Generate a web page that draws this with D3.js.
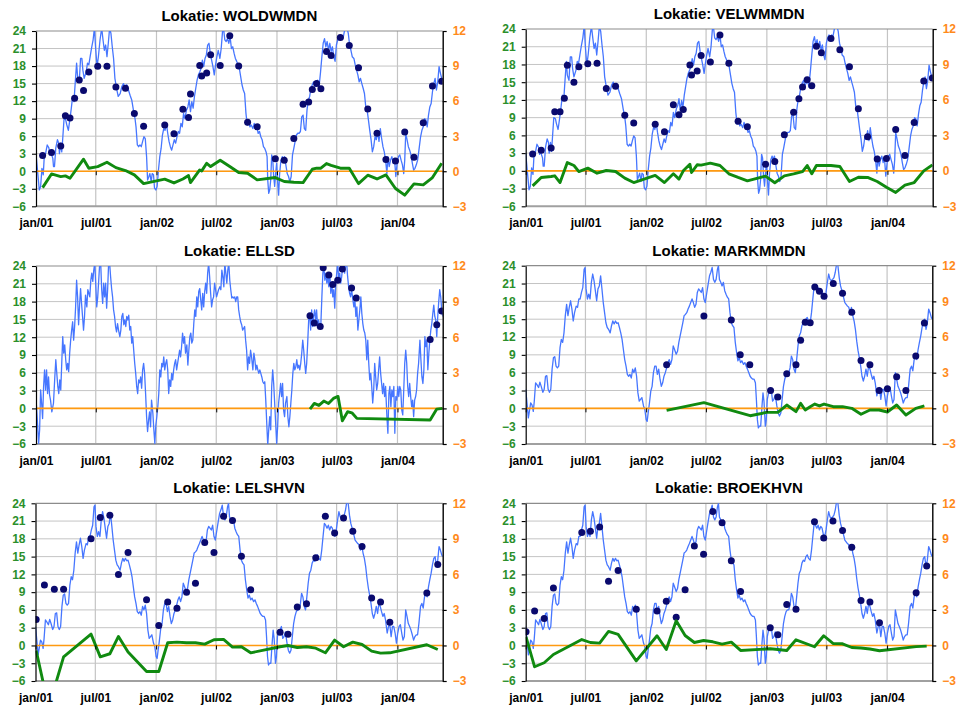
<!DOCTYPE html>
<html>
<head>
<meta charset="utf-8">
<script src="https://cdn.jsdelivr.net/npm/d3@7"></script>
<style>
  body { margin: 0; background: #ffffff; }
  svg { display: block; font-family: "Liberation Sans", Arial, sans-serif; }
</style>
</head>
<body>
<svg id="chart" width="963" height="711"></svg>
<script>
// ---- data ---------------------------------------------------------------
// All series are [dag, waarde] with dag = days since 1 Jan 2001.
const lastDay = 1232;

const locations = ["WOLDWMDN", "VELWMMDN", "ELLSD", "MARKMMDN", "LELSHVN", "BROEKHVN"];

const yLeftTicks = [-6, -3, 0, 3, 6, 9, 12, 15, 18, 21, 24];
const yRightTicks = [-3, 0, 3, 6, 9, 12];
const xTickDates = ["2001-01-01", "2001-07-01", "2002-01-01", "2002-07-01", "2003-01-01", "2003-07-01", "2004-01-01"];
const xTickLabels = ["jan/01", "jul/01", "jan/02", "jul/02", "jan/03", "jul/03", "jan/04"];

// daily water temperature (left axis), northern stations
const tempNoord = [[0,3.0],[10,-3.2],[14,-2.6],[18,0.5],[22,-0.6],[25,2.5],[29,3.0],[34,4.5],[39,4.0],[42,2.8],[45,3.2],[51,2.2],[53,0.8],[56,0.8],[60,4.0],[65,5.4],[69,4.8],[71,3.0],[75,4.8],[78,3.3],[81,5.6],[85,9.0],[90,8.8],[93,8.0],[98,7.0],[103,9.0],[107,10.8],[111,12.8],[115,11.9],[119,15.3],[123,18.5],[126,16.2],[131,15.3],[135,19.3],[139,19.3],[142,17.3],[146,15.9],[152,17.0],[156,18.5],[160,18.2],[164,19.6],[168,21.0],[173,22.5],[177,24.5],[181,20.7],[185,17.9],[189,19.6],[194,22.5],[199,24.5],[203,22.5],[207,20.7],[211,21.6],[215,19.6],[219,21.9],[223,24.5],[227,23.6],[231,21.3],[235,19.3],[239,15.9],[244,14.2],[249,12.8],[255,13.3],[260,14.5],[265,15.0],[270,14.2],[275,14.8],[280,13.9],[285,13.0],[290,12.2],[295,10.5],[300,9.0],[303,7.6],[307,4.5],[311,4.2],[315,4.5],[319,4.2],[323,5.1],[327,5.9],[331,5.6],[335,2.5],[338,-1.5],[342,-0.9],[345,-0.4],[349,-1.8],[352,-0.4],[356,-0.6],[359,-2.9],[363,-3.2],[367,-2.6],[371,0.2],[375,2.5],[379,3.9],[383,6.2],[387,7.3],[391,7.0],[395,8.2],[399,6.5],[403,5.1],[407,4.2],[411,3.6],[415,4.5],[419,5.4],[423,4.8],[427,5.9],[431,6.8],[435,6.5],[439,8.2],[443,7.6],[447,9.9],[451,9.0],[456,10.5],[460,11.0],[464,12.2],[468,10.2],[472,11.9],[476,10.8],[480,12.8],[484,14.2],[488,15.6],[492,16.5],[496,17.0],[500,17.6],[504,19.0],[508,17.9],[512,19.3],[516,19.9],[520,21.6],[524,21.9],[528,20.2],[532,19.0],[536,17.9],[540,16.5],[544,18.2],[548,19.6],[552,20.7],[557,19.3],[561,21.0],[565,23.9],[568,24.5],[572,22.5],[576,22.2],[580,22.7],[584,21.9],[588,23.0],[592,21.0],[596,21.3],[600,20.2],[604,19.3],[608,18.8],[612,18.2],[616,17.6],[620,16.2],[624,14.8],[628,13.9],[632,13.3],[636,9.9],[640,7.9],[644,8.8],[648,7.6],[652,7.9],[657,7.3],[661,8.2],[665,7.3],[669,7.6],[673,6.5],[677,6.8],[681,5.9],[685,5.4],[689,4.2],[693,3.9],[697,3.3],[700,2.5],[702,-1.5],[705,-3.8],[708,-3.2],[711,-1.5],[714,2.8],[717,2.2],[720,-0.9],[723,-2.6],[726,-0.4],[729,1.4],[732,-1.8],[735,-4.1],[738,-0.4],[742,1.9],[746,2.5],[749,1.9],[753,2.5],[756,1.4],[761,-0.4],[765,-0.9],[769,-1.8],[773,-0.9],[777,2.8],[781,3.9],[785,5.1],[789,6.2],[793,6.5],[797,6.5],[801,6.8],[805,9.3],[809,9.6],[813,7.3],[817,7.0],[821,10.5],[825,12.2],[829,12.8],[833,14.2],[837,14.8],[841,15.3],[845,14.5],[849,14.8],[853,15.6],[857,14.2],[862,17.0],[866,19.6],[870,21.9],[874,22.7],[878,21.3],[882,22.2],[886,20.7],[890,21.9],[894,20.5],[898,21.3],[902,19.6],[906,18.8],[910,21.6],[914,22.5],[918,23.0],[922,22.5],[926,23.0],[930,22.7],[934,23.9],[938,24.5],[942,24.5],[946,23.6],[950,21.6],[954,20.7],[958,19.6],[963,19.3],[967,18.2],[971,17.3],[975,16.5],[979,15.3],[983,15.9],[987,15.0],[991,14.2],[995,13.3],[999,11.0],[1003,10.5],[1007,8.8],[1011,7.0],[1015,5.4],[1019,3.3],[1023,4.2],[1027,5.9],[1031,5.4],[1035,6.8],[1039,5.1],[1043,7.3],[1047,5.6],[1051,4.2],[1055,3.3],[1059,1.9],[1063,-0.4],[1066,2.5],[1070,0.8],[1074,1.9],[1078,2.5],[1082,1.4],[1086,2.2],[1090,-0.9],[1094,1.4],[1098,2.5],[1102,2.8],[1106,1.9],[1110,1.1],[1114,-0.4],[1117,1.9],[1120,6.5],[1124,5.4],[1128,4.2],[1132,3.6],[1136,2.8],[1140,1.4],[1144,0.2],[1148,0.5],[1152,1.1],[1156,1.9],[1160,3.6],[1165,5.9],[1169,7.0],[1173,7.6],[1177,9.0],[1181,8.8],[1185,7.6],[1189,9.6],[1193,11.0],[1197,11.6],[1201,13.6],[1205,15.0],[1209,15.9],[1213,13.9],[1217,15.3],[1221,17.9],[1225,16.8],[1229,15.9],[1232,15.6]];

// daily water temperature, ELLSD
const tempEll = [[0,1.7],[4,-2.0],[8,-5.9],[11,-3.6],[14,3.1],[17,0.9],[20,-1.7],[23,3.7],[26,6.5],[29,3.1],[32,6.5],[35,2.5],[38,5.3],[41,2.3],[44,1.4],[48,-0.6],[53,0.9],[57,5.3],[60,8.2],[63,5.9],[66,3.7],[69,2.5],[72,4.8],[75,3.1],[78,7.6],[81,12.1],[84,9.3],[87,10.7],[90,8.2],[93,6.5],[96,7.6],[99,6.2],[102,9.3],[105,11.5],[108,13.2],[111,14.6],[114,11.5],[117,13.8],[120,17.1],[123,21.6],[126,18.8],[129,14.1],[132,17.4],[135,20.2],[138,17.7],[141,15.5],[144,13.2],[147,15.5],[150,19.1],[154,17.1],[157,20.0],[160,19.4],[163,18.8],[166,21.6],[169,22.8],[172,21.4],[175,23.3],[178,24.5],[181,20.8],[184,17.1],[187,18.8],[190,21.6],[193,24.5],[196,24.5],[199,20.0],[202,17.7],[205,21.1],[208,18.8],[211,21.1],[214,16.9],[217,20.0],[220,24.5],[223,24.5],[226,22.2],[229,20.2],[232,18.8],[235,16.6],[238,15.5],[241,13.8],[244,12.9],[247,14.3],[250,13.2],[254,12.1],[257,13.2],[260,15.5],[263,16.0],[266,14.1],[269,14.9],[272,13.8],[275,15.5],[278,14.9],[281,15.7],[284,13.2],[287,13.8],[290,11.0],[293,12.1],[296,9.8],[299,7.6],[302,5.9],[305,3.7],[308,2.5],[311,4.8],[314,4.3],[317,5.3],[320,3.4],[323,6.5],[326,7.6],[329,5.9],[332,2.5],[335,-1.4],[338,-3.9],[341,-2.0],[344,-0.6],[347,-3.1],[350,1.4],[354,-0.8],[357,-3.6],[360,-5.9],[363,-2.8],[366,-1.4],[369,0.3],[372,2.5],[375,6.5],[378,5.3],[381,7.6],[384,7.0],[387,8.7],[390,6.5],[393,7.6],[396,8.2],[399,6.5],[402,2.5],[405,4.8],[408,3.7],[411,5.9],[414,4.8],[417,6.5],[420,7.6],[423,8.2],[426,6.5],[429,7.6],[432,8.7],[435,9.8],[438,8.7],[441,10.4],[444,12.7],[447,11.0],[450,12.1],[453,9.3],[457,10.7],[460,7.3],[463,9.8],[466,12.1],[469,12.7],[472,11.0],[475,11.5],[478,14.3],[481,16.6],[484,15.5],[487,18.8],[490,17.1],[493,19.7],[496,20.2],[499,18.3],[502,16.6],[505,19.4],[508,17.1],[511,19.7],[514,21.1],[517,19.4],[520,22.8],[523,24.5],[526,22.2],[529,19.4],[532,17.1],[535,18.3],[538,18.8],[541,21.1],[544,20.0],[547,18.8],[550,19.4],[553,20.0],[557,20.5],[560,20.0],[563,23.3],[566,22.2],[569,20.5],[572,24.5],[575,22.8],[578,21.1],[581,23.3],[584,24.5],[587,21.6],[590,20.0],[593,18.6],[596,18.8],[599,18.6],[602,18.8],[605,18.0],[608,18.8],[611,18.8],[614,16.6],[617,15.5],[620,14.6],[623,14.1],[626,13.2],[629,13.5],[632,13.8],[635,11.5],[638,9.8],[641,6.5],[644,8.7],[647,7.6],[650,9.8],[653,8.7],[657,6.5],[660,9.3],[663,8.2],[666,6.5],[669,7.3],[672,6.5],[675,5.9],[678,6.5],[681,5.9],[684,5.3],[687,4.5],[690,4.2],[693,4.5],[696,1.4],[699,-2.5],[702,-6.2],[705,-3.6],[708,-1.4],[711,-3.6],[714,3.7],[717,6.5],[720,4.2],[723,0.9],[726,-2.5],[729,-5.9],[732,-3.1],[735,0.9],[738,2.5],[741,4.2],[744,2.0],[747,4.2],[750,-0.3],[753,-1.4],[756,0.9],[760,2.0],[763,-1.4],[766,-3.1],[769,-1.4],[772,0.9],[775,3.1],[778,5.9],[781,7.6],[784,6.5],[787,7.0],[790,8.2],[793,6.8],[796,7.3],[799,6.5],[802,7.6],[805,9.3],[808,11.5],[811,9.8],[814,7.6],[817,5.9],[820,7.6],[823,11.0],[826,14.9],[829,16.0],[832,13.2],[835,16.6],[838,13.8],[841,15.5],[844,16.6],[847,14.9],[850,16.6],[853,13.8],[856,14.9],[860,13.5],[863,14.3],[866,18.8],[869,22.8],[872,23.9],[875,21.6],[878,22.8],[881,21.1],[884,22.2],[887,20.5],[890,22.8],[893,19.4],[896,21.1],[899,18.8],[902,20.0],[905,16.9],[908,21.1],[911,22.8],[914,24.5],[917,21.6],[920,22.8],[923,21.1],[926,22.2],[929,23.9],[932,24.5],[935,22.8],[938,24.5],[941,24.5],[944,22.2],[947,20.5],[950,19.4],[953,18.8],[956,20.0],[960,18.3],[963,17.1],[966,18.3],[969,15.5],[972,17.1],[975,13.2],[978,14.9],[981,16.6],[984,18.8],[987,16.0],[990,14.3],[993,13.2],[996,12.7],[999,11.5],[1002,8.2],[1005,11.5],[1008,7.6],[1011,4.8],[1014,5.9],[1017,3.7],[1020,0.9],[1023,3.1],[1026,7.6],[1029,5.3],[1032,3.1],[1035,4.2],[1038,6.5],[1041,8.7],[1044,5.9],[1047,4.2],[1050,2.5],[1053,4.2],[1056,2.0],[1059,3.7],[1063,-1.4],[1066,-4.2],[1069,2.5],[1072,3.7],[1075,0.3],[1078,3.1],[1081,2.0],[1084,3.7],[1087,-4.2],[1090,2.0],[1093,1.4],[1096,3.7],[1099,2.0],[1102,3.7],[1105,3.1],[1108,-0.3],[1111,-1.1],[1114,3.1],[1117,7.6],[1120,9.8],[1123,7.6],[1126,3.7],[1129,2.0],[1132,4.2],[1135,2.0],[1138,0.3],[1141,1.4],[1144,-1.4],[1147,1.4],[1150,2.0],[1153,3.1],[1156,5.9],[1159,7.6],[1163,11.5],[1166,8.2],[1169,5.3],[1172,4.2],[1175,6.5],[1178,12.1],[1181,10.4],[1184,11.5],[1187,6.5],[1190,9.3],[1193,11.5],[1196,13.2],[1199,14.3],[1202,16.0],[1205,17.4],[1208,15.5],[1211,14.9],[1214,12.1],[1217,15.5],[1220,18.0],[1223,20.0],[1226,18.8],[1229,16.6],[1232,15.5]];

// daily water temperature, harbour stations
const tempHaven = [[0,3.2],[4,0.9],[8,-1.6],[12,-0.2],[15,0.9],[19,0.6],[23,-0.5],[26,1.2],[30,4.3],[34,4.0],[39,3.5],[43,4.4],[47,3.7],[52,2.7],[56,3.2],[60,5.4],[64,5.5],[68,3.2],[72,2.7],[76,3.2],[80,6.6],[84,8.5],[88,8.7],[92,7.1],[96,6.8],[100,7.1],[104,10.2],[108,11.6],[112,11.1],[116,12.7],[120,15.6],[124,17.5],[128,15.6],[132,17.0],[136,18.1],[140,16.7],[144,14.7],[148,16.1],[153,17.2],[157,17.0],[161,18.4],[165,18.4],[169,19.5],[173,20.3],[177,23.4],[180,23.7],[183,20.1],[187,18.4],[191,19.2],[195,18.4],[199,21.2],[203,22.6],[207,21.5],[211,19.8],[215,18.1],[219,20.1],[223,20.6],[227,22.3],[231,20.1],[235,17.8],[239,16.1],[243,14.4],[247,13.6],[251,13.3],[256,12.7],[260,13.9],[264,14.7],[268,14.2],[272,14.7],[276,14.3],[280,14.4],[284,13.6],[288,12.7],[292,11.6],[296,9.9],[300,8.2],[304,7.1],[308,5.7],[312,5.4],[316,5.7],[320,5.1],[324,6.6],[328,6.0],[332,6.8],[336,5.4],[340,2.6],[344,1.2],[348,1.5],[352,1.8],[357,0.4],[361,-0.2],[365,-1.9],[368,-2.2],[371,-0.8],[375,0.9],[379,2.9],[383,3.7],[387,6.0],[391,7.1],[395,7.1],[399,5.7],[403,6.6],[407,4.9],[411,3.7],[415,4.3],[419,5.4],[423,6.0],[427,6.8],[431,7.7],[435,8.2],[439,7.4],[443,8.2],[447,10.5],[451,9.9],[456,9.1],[460,9.6],[464,11.1],[468,12.2],[472,13.3],[476,14.4],[480,15.6],[484,15.8],[488,16.1],[492,16.7],[496,17.2],[500,17.8],[504,18.4],[508,17.8],[512,17.0],[516,17.5],[520,19.5],[524,20.1],[528,19.8],[532,19.5],[536,20.3],[540,18.4],[544,17.8],[548,19.2],[552,20.6],[557,22.3],[561,22.9],[565,23.7],[569,21.7],[573,21.2],[577,21.7],[581,23.4],[584,24.0],[587,21.7],[591,21.2],[595,20.6],[599,21.2],[603,19.8],[607,19.2],[611,18.7],[615,18.4],[619,16.1],[623,14.4],[627,13.9],[631,13.6],[635,11.1],[639,9.4],[643,8.0],[647,8.5],[651,7.7],[655,8.0],[660,7.4],[664,7.7],[668,7.1],[672,6.6],[676,6.0],[680,5.4],[684,5.1],[688,4.9],[692,4.9],[696,4.3],[699,1.5],[702,-1.9],[705,-3.3],[708,-3.0],[712,-3.0],[716,0.4],[719,2.6],[722,1.2],[726,-3.0],[729,-1.9],[732,1.5],[736,2.6],[740,2.6],[744,3.2],[748,1.2],[752,1.5],[756,2.3],[761,0.4],[765,-0.8],[769,-1.3],[773,-0.8],[777,1.5],[781,3.7],[785,4.9],[789,5.7],[793,6.0],[797,6.0],[801,6.8],[805,8.8],[809,8.2],[813,6.6],[817,6.0],[821,8.2],[825,10.5],[829,12.2],[833,12.7],[837,13.9],[841,14.4],[845,14.2],[849,15.0],[853,15.3],[857,14.7],[862,14.4],[866,16.1],[870,18.4],[874,20.6],[878,20.3],[882,19.8],[886,20.3],[890,19.5],[894,20.1],[898,19.8],[902,18.7],[906,18.4],[910,19.5],[914,21.2],[918,22.6],[922,21.7],[926,21.5],[930,21.7],[934,22.0],[938,22.9],[942,24.3],[946,24.0],[950,22.0],[954,20.6],[958,19.8],[963,18.7],[967,17.8],[971,17.5],[975,17.2],[979,17.0],[983,16.1],[987,17.0],[991,15.6],[995,14.7],[999,13.3],[1003,11.3],[1007,9.7],[1011,8.5],[1015,7.1],[1019,5.4],[1023,4.6],[1027,5.4],[1031,6.6],[1035,5.4],[1039,7.1],[1043,6.6],[1047,5.7],[1051,4.9],[1055,5.4],[1059,4.3],[1064,2.1],[1068,3.2],[1072,3.5],[1076,1.5],[1080,3.2],[1084,3.2],[1088,2.1],[1092,0.4],[1096,2.1],[1100,3.2],[1104,3.5],[1108,2.1],[1112,0.9],[1116,1.5],[1120,6.0],[1124,4.9],[1128,3.7],[1132,3.2],[1136,2.6],[1140,1.8],[1144,0.9],[1148,1.5],[1152,1.8],[1156,1.8],[1160,3.7],[1165,6.6],[1169,7.1],[1173,6.3],[1177,8.2],[1181,8.8],[1185,8.2],[1189,9.9],[1193,11.1],[1197,12.2],[1201,13.6],[1205,14.7],[1209,15.0],[1213,13.3],[1217,14.4],[1221,16.7],[1225,16.1],[1229,15.3],[1232,15.0]];

// measurements (dots, left axis)
const measWold = [[20,2.7],[47,3.2],[75,4.3],[89,9.5],[103,9.1],[117,12.5],[131,15.6],[144,13.8],[160,17.0],[187,17.95],[215,17.95],[242,14.4],[271,14.2],[298,9.9],[326,7.7],[390,7.9],[418,6.4],[445,10.6],[462,9.2],[468,13.2],[496,18.1],[502,16.3],[517,16.8],[529,19.95],[558,18.1],[587,23.2],[614,18.0],[641,8.4],[670,7.6],[725,2.15],[752,1.9],[781,5.6],[809,11.45],[826,11.85],[837,14.0],[850,15.0],[863,14.1],[880,20.5],[894,19.8],[922,22.9],[949,21.5],[977,17.7],[1005,10.65],[1033,6.5],[1060,2.0],[1089,1.75],[1117,6.7],[1145,2.4],[1173,8.3],[1201,14.6],[1229,15.4]];
const measVelw = [[21,2.85],[47,3.5],[77,3.85],[88,10.0],[104,10.0],[117,12.3],[126,17.85],[146,15.0],[161,17.6],[188,18.1],[216,18.2],[244,13.95],[272,14.3],[300,9.4],[327,8.1],[392,7.9],[420,6.6],[447,11.2],[464,9.5],[477,10.4],[497,17.9],[502,16.2],[519,16.9],[531,19.5],[559,18.4],[588,23.0],[615,18.2],[643,8.4],[671,7.45],[726,1.1],[754,1.6],[783,6.1],[811,9.9],[827,12.2],[838,14.2],[852,15.4],[866,14.4],[880,21.1],[895,20.0],[924,22.4],[951,20.5],[980,17.6],[1007,10.5],[1035,5.75],[1064,2.0],[1092,2.1],[1120,7.0],[1148,2.6],[1176,8.2],[1205,15.2],[1231,15.7]];
const measEll = [[830,15.6],[843,14.4],[861,13.8],[870,23.7],[887,22.5],[899,20.9],[914,21.6],[928,23.5],[956,20.3],[970,18.6],[1194,11.6],[1214,14.1],[1229,16.4]];
const measMark = [[427,7.35],[540,15.55],[623,14.85],[650,9.0],[679,7.35],[742,3.0],[764,1.9],[791,5.8],[819,7.35],[833,11.45],[847,14.5],[862,14.4],[876,20.4],[890,19.7],[904,18.85],[932,21.0],[960,19.35],[988,16.15],[1016,8.05],[1043,7.35],[1071,3.0],[1096,3.3],[1124,5.3],[1152,3.0],[1182,8.8],[1208,14.35]];
const measLels = [[2,4.4],[27,10.2],[57,9.5],[85,9.5],[168,18.0],[196,21.6],[225,22.0],[251,12.0],[280,15.7],[336,7.7],[373,3.35],[400,7.35],[428,6.3],[457,9.0],[484,10.5],[512,17.4],[540,15.7],[569,21.8],[596,21.1],[623,15.05],[651,9.4],[740,2.25],[764,1.9],[792,6.5],[820,7.05],[848,14.8],[877,21.8],[905,19.0],[932,21.5],[960,19.3],[988,16.7],[1017,8.0],[1044,7.35],[1072,3.9],[1184,8.85],[1217,13.65]];
const measBroek = [[1,2.3],[27,5.8],[56,4.55],[84,9.7],[170,19.05],[196,19.3],[224,20.0],[251,10.85],[280,12.65],[335,6.1],[398,5.8],[426,7.45],[456,4.75],[483,9.4],[511,16.8],[539,15.4],[567,22.6],[595,20.7],[623,14.3],[651,9.1],[741,3.0],[764,1.8],[791,6.9],[819,6.1],[875,20.9],[903,18.15],[931,21.0],[960,19.4],[988,16.6],[1016,7.6],[1043,7.35],[1072,3.85],[1183,8.9],[1215,13.4]];

// model minus measurement (green line, right axis)
const diffWold = [[20,-1.40],[47,-0.23],[75,-0.46],[89,-0.40],[103,-0.60],[144,1.03],[160,0.26],[187,0.40],[215,0.77],[242,0.31],[271,0.06],[298,-0.31],[326,-1.06],[390,-0.68],[418,-1.0],[445,-0.66],[462,-0.37],[468,-0.97],[496,0.11],[502,0.03],[517,0.68],[529,0.40],[558,0.94],[587,0.40],[614,-0.11],[641,-0.17],[670,-0.74],[725,-0.54],[752,-0.88],[781,-0.94],[809,-0.97],[837,0.17],[850,0.26],[863,0.26],[880,0.66],[894,0.51],[922,0.26],[949,0.26],[977,-1.06],[1005,-0.34],[1033,-0.66],[1060,-0.31],[1089,-1.48],[1117,-2.05],[1145,-1.08],[1173,-1.17],[1201,-0.54],[1229,0.68]];
const diffVelw = [[21,-1.27],[47,-0.56],[77,-0.48],[88,-0.42],[104,-0.99],[126,0.70],[146,0.45],[161,-0.06],[188,0.23],[216,-0.20],[244,0.03],[272,-0.06],[300,-0.62],[327,-0.99],[392,-0.39],[420,-0.99],[447,-0.25],[464,-0.70],[477,0.0],[497,0.56],[502,-0.14],[519,0.51],[531,0.48],[559,0.65],[588,0.45],[615,-0.25],[643,-0.56],[671,-0.85],[726,-0.45],[754,-1.01],[783,-0.42],[811,-0.25],[838,-0.06],[852,0.45],[866,-0.25],[880,0.45],[895,0.45],[924,0.45],[951,0.37],[980,-0.90],[1007,-0.54],[1035,-0.56],[1064,-0.90],[1092,-1.38],[1120,-1.83],[1148,-1.21],[1176,-0.99],[1205,0.0],[1231,0.51]];
const diffEll = [[830,-0.06],[843,0.42],[857,0.25],[872,0.62],[886,0.42],[901,0.84],[915,1.01],[928,-1.04],[944,-0.28],[957,-0.37],[972,-0.84],[1194,-0.98],[1214,-0.06],[1232,0.0]];
const diffMark = [[427,-0.17],[540,0.48],[680,-0.62],[730,-0.34],[764,-0.34],[791,0.28],[819,-0.28],[833,0.42],[847,-0.14],[862,0.14],[876,0.36],[890,0.20],[904,0.36],[932,0.14],[960,0.14],[988,0.0],[1016,-0.50],[1043,-0.14],[1071,-0.14],[1096,-0.31],[1124,0.28],[1152,-0.56],[1182,0.0],[1208,0.20]];
const diffLels = [[2,-0.42],[27,-3.6],[57,-3.6],[85,-0.96],[168,0.96],[196,-0.96],[225,-0.70],[251,0.76],[280,-0.56],[336,-2.2],[373,-2.2],[400,0.23],[428,0.28],[457,0.23],[484,0.23],[512,0.11],[540,0.48],[569,0.51],[596,-0.14],[623,-0.11],[651,-0.62],[740,-0.11],[764,0.0],[792,-0.17],[820,-0.11],[848,-0.23],[877,-0.62],[905,0.45],[932,-0.11],[960,0.28],[988,0.08],[1017,-0.48],[1044,-0.65],[1072,-0.62],[1184,0.06],[1217,-0.34]];
const diffBroek = [[1,0.73],[27,-1.8],[56,-1.46],[84,-0.76],[170,0.5],[196,0.25],[224,0.2],[251,1.18],[280,0.93],[335,-1.3],[398,0.82],[426,-0.34],[456,2.08],[483,0.84],[511,0.25],[539,0.42],[567,0.31],[595,0.11],[623,0.28],[651,-0.42],[741,-0.28],[764,-0.34],[791,-0.42],[819,0.48],[875,-0.11],[903,0.82],[931,0.17],[960,0.14],[988,-0.17],[1016,-0.22],[1043,-0.3],[1072,-0.45],[1183,-0.1],[1215,-0.06]];

// ---- drawing ------------------------------------------------------------
const panels = [
  { name: locations[0], temp: tempNoord, meas: measWold,  diff: diffWold },
  { name: locations[1], temp: tempNoord, meas: measVelw,  diff: diffVelw },
  { name: locations[2], temp: tempEll,   meas: measEll,   diff: diffEll },
  { name: locations[3], temp: tempHaven, meas: measMark,  diff: diffMark },
  { name: locations[4], temp: tempHaven, meas: measLels,  diff: diffLels },
  { name: locations[5], temp: tempHaven, meas: measBroek, diff: diffBroek }
];

// plot-area frames, two columns by three rows
const frames = [
  { left: 36,    right: 442.7, top: 31,    bottom: 206.3 },
  { left: 525.7, right: 932.7, top: 29,    bottom: 206.3 },
  { left: 36,    right: 442.7, top: 266,   bottom: 444 },
  { left: 525.7, right: 932.3, top: 265.7, bottom: 444 },
  { left: 35.5,  right: 442.7, top: 503.3, bottom: 681 },
  { left: 525.7, right: 932.3, top: 503.3, bottom: 681 }
];

const COLORS = {
  temp: "#4676ff", meas: "#0a0a6e", diff: "#108a10", zero: "#ff9a10",
  leftLabel: "#2b8f2b", rightLabel: "#ff8a1a", grid: "#c4c4c4", border: "#a0a0a0"
};

const t0 = new Date(Date.UTC(2001, 0, 1));
const toDate = d => d3.utcDay.offset(t0, d);
const parseDay = d3.utcParse("%Y-%m-%d");
const xTicks = xTickDates.map(parseDay);

const svg = d3.select("#chart");

panels.forEach((p, i) => {
  const f = frames[i];
  const x = d3.scaleUtc().domain([t0, toDate(lastDay)]).range([f.left, f.right]);
  const yL = d3.scaleLinear().domain([-6, 24]).range([f.bottom, f.top]);
  const yR = d3.scaleLinear().domain([-3, 12]).range([f.bottom, f.top]);

  const g = svg.append("g").attr("class", "panel");

  g.append("clipPath").attr("id", "clip" + i)
    .append("rect")
    .attr("x", f.left).attr("y", f.top)
    .attr("width", f.right - f.left).attr("height", f.bottom - f.top);

  // gridlines
  g.append("g").selectAll("line")
    .data(yLeftTicks.filter(v => v > -6 && v < 24))
    .join("line")
    .attr("x1", f.left).attr("x2", f.right)
    .attr("y1", d => yL(d)).attr("y2", d => yL(d))
    .attr("stroke", COLORS.grid).attr("stroke-width", 1);
  g.append("g").selectAll("line")
    .data(xTicks.slice(1))
    .join("line")
    .attr("x1", d => x(d)).attr("x2", d => x(d))
    .attr("y1", f.top).attr("y2", f.bottom)
    .attr("stroke", COLORS.grid).attr("stroke-width", 1.2);
  g.append("line")
    .attr("x1", f.left).attr("x2", f.right)
    .attr("y1", yL(24)).attr("y2", yL(24))
    .attr("stroke", "#8c8c8c").attr("stroke-width", 1.2);
  g.append("line")
    .attr("x1", f.left).attr("x2", f.right)
    .attr("y1", yL(-6)).attr("y2", yL(-6))
    .attr("stroke", COLORS.border).attr("stroke-width", 2);

  const plot = g.append("g").attr("clip-path", `url(#clip${i})`);

  // temperature series
  plot.append("path")
    .datum(p.temp)
    .attr("fill", "none")
    .attr("stroke", COLORS.temp)
    .attr("stroke-width", 1.3)
    .attr("stroke-linejoin", "round")
    .attr("d", d3.line().x(d => x(toDate(d[0]))).y(d => yL(d[1])));

  // zero reference line on the right axis
  plot.append("line")
    .attr("x1", f.left).attr("x2", f.right)
    .attr("y1", yR(0)).attr("y2", yR(0))
    .attr("stroke", COLORS.zero).attr("stroke-width", 1.6);

  // category axis crossing at zero: tick marks only
  const xZero = g.append("g")
    .attr("transform", `translate(0,${yR(0)})`)
    .call(d3.axisBottom(x).tickValues(xTicks).tickSize(4).tickFormat(""));
  xZero.select(".domain").remove();
  xZero.selectAll(".tick line").attr("stroke", "#000").attr("stroke-width", 1);

  // measurements
  plot.append("g").selectAll("circle")
    .data(p.meas)
    .join("circle")
    .attr("cx", d => x(toDate(d[0])))
    .attr("cy", d => yL(d[1]))
    .attr("r", 3.5)
    .attr("fill", COLORS.meas);

  // difference series
  plot.append("path")
    .datum(p.diff)
    .attr("fill", "none")
    .attr("stroke", COLORS.diff)
    .attr("stroke-width", 2.9)
    .attr("stroke-linejoin", "round")
    .attr("d", d3.line().x(d => x(toDate(d[0]))).y(d => yR(d[1])));

  // left axis
  const left = g.append("g")
    .attr("transform", `translate(${f.left},0)`)
    .call(d3.axisLeft(yL).tickValues(yLeftTicks).tickSize(4).tickPadding(6).tickSizeOuter(0));
  left.select(".domain").attr("stroke", "#000").attr("stroke-width", 1.2);
  left.selectAll(".tick line").attr("stroke", "#000").attr("stroke-width", 1.1);
  left.selectAll("text")
    .attr("fill", COLORS.leftLabel)
    .attr("font-family", "Liberation Sans, Arial, sans-serif")
    .attr("font-size", 12).attr("font-weight", "bold");

  // right axis
  const right = g.append("g")
    .attr("transform", `translate(${f.right},0)`)
    .call(d3.axisRight(yR).tickValues(yRightTicks).tickSize(4).tickPadding(6).tickSizeOuter(0));
  right.select(".domain").attr("stroke", "#000").attr("stroke-width", 1.4);
  right.selectAll(".tick line").attr("stroke", "#000").attr("stroke-width", 1.2);
  right.selectAll("text")
    .attr("fill", COLORS.rightLabel)
    .attr("font-family", "Liberation Sans, Arial, sans-serif")
    .attr("font-size", 12).attr("font-weight", "bold");

  // date labels along the bottom
  const bottom = g.append("g")
    .attr("transform", `translate(0,${f.bottom})`)
    .call(d3.axisBottom(x).tickValues(xTicks).tickSize(0).tickPadding(12.5)
      .tickFormat((d, k) => xTickLabels[k]));
  bottom.select(".domain").remove();
  bottom.selectAll("text")
    .attr("fill", "#000")
    .attr("font-family", "Liberation Sans, Arial, sans-serif")
    .attr("font-size", 12).attr("font-weight", "bold");

  // title
  g.append("text")
    .attr("x", (f.left + f.right) / 2)
    .attr("y", f.top - 10)
    .attr("text-anchor", "middle")
    .attr("font-size", 15).attr("font-weight", "bold")
    .attr("fill", "#000")
    .text("Lokatie: " + p.name);
});
</script>
</body>
</html>
